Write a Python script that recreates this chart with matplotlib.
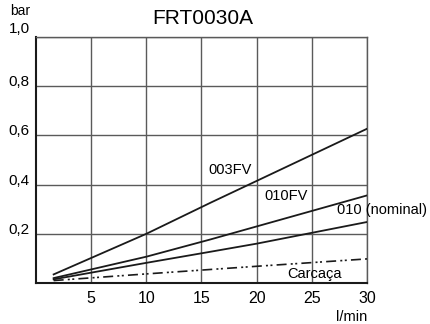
import matplotlib; matplotlib.use('Agg')
import numpy as np
from matplotlib import pyplot as plt

plt.rcParams.update({
    'font.family': ['Liberation Sans', 'DejaVu Sans'],
})

# flow [l/min] vs pressure drop [bar]
flow = [1.6, 10, 15.8, 20, 30]
p_003FV = [0.035, 0.20, 0.326, 0.415, 0.627]
p_010FV = [0.020, 0.107, 0.177, 0.230, 0.356]
p_010 = [0.015, 0.082, 0.127, 0.160, 0.248]
p_carcaca = [0.010, 0.037, 0.055, 0.068, 0.098]

x_ticks = [5, 10, 15, 20, 25, 30]
y_ticks = [0.2, 0.4, 0.6, 0.8, 1.0]
y_ticklabels = ['0,2', '0,4', '0,6', '0,8', '1,0']

fig = plt.figure(figsize=(4.30, 3.24), dpi=100)
ax = fig.add_axes([0.0837, 0.1265, 0.7698, 0.7593])

ax.set_xlim(0, 30)
ax.set_ylim(0, 1.0)

grid = '#5a5a5a'
for x in x_ticks:
    ax.axvline(x, color=grid, lw=1.0, zorder=1)
for y in y_ticks:
    ax.axhline(y, color=grid, lw=1.0, zorder=1)

ax.plot(flow, p_003FV, color='#1a1a1a', lw=1.3, zorder=3)
ax.plot(flow, p_010FV, color='#1a1a1a', lw=1.3, zorder=3)
ax.plot(flow, p_010, color='#1a1a1a', lw=1.3, zorder=3)
ax.plot(flow, p_carcaca, color='#1a1a1a', lw=1.2, zorder=3,
        dashes=(6, 2.5, 1.2, 1.5, 1.2, 2.5))

for s in ['top', 'right']:
    ax.spines[s].set_color(grid)
    ax.spines[s].set_linewidth(1.0)
for s in ['left', 'bottom']:
    ax.spines[s].set_color('#1a1a1a')
    ax.spines[s].set_linewidth(1.5)

ax.set_xticks(x_ticks)
ax.set_xticklabels([str(v) for v in x_ticks], fontsize=11.5)
ax.set_yticks([])
ax.tick_params(axis='x', length=0, pad=6)

for y, lab in zip(y_ticks, y_ticklabels):
    off = 0.018 if y == 1.0 else 0.0
    ax.text(-0.55, y + off, lab, ha='right', va='baseline', fontsize=11,
            clip_on=False)

ax.text(-0.55, 1.09, 'bar', ha='right', va='baseline', fontsize=10)
ax.text(30, -0.14, 'l/min', ha='right', va='center', fontsize=10.5)

ax.text(15.1, 1.075, 'FRT0030A', ha='center', va='center', fontsize=15)

ax.text(15.6, 0.46, '003FV', ha='left', va='center', fontsize=10.5)
ax.text(20.7, 0.355, '010FV', ha='left', va='center', fontsize=10.5)
ax.text(27.3, 0.295, '010 (nominal)', ha='left', va='center', fontsize=10.5,
        clip_on=False)
ax.text(22.8, 0.035, 'Carcaça', ha='left', va='center', fontsize=10.5)

plt.savefig('out.png', dpi=100)
plt.close()
